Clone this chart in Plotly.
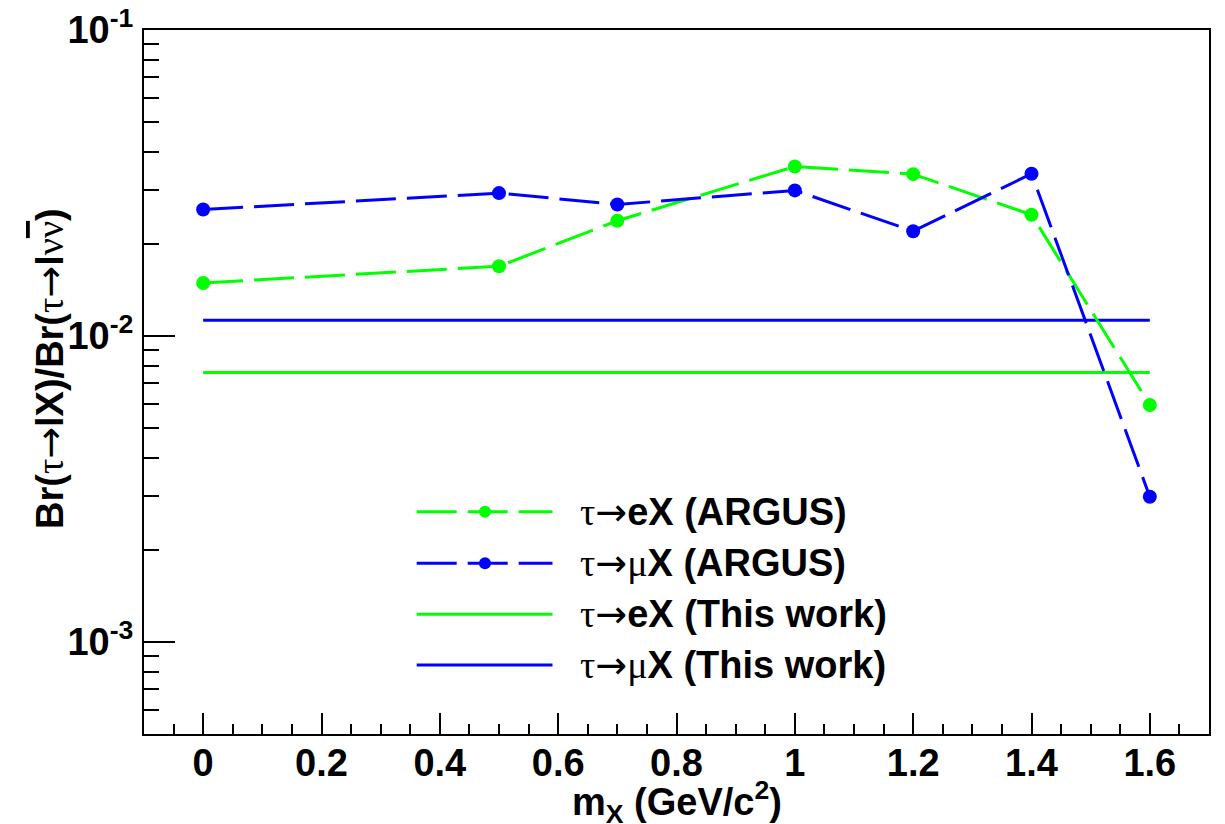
import plotly.graph_objects as go

# ---------------- data ----------------
mx = [0.0, 0.5, 0.7, 1.0, 1.2, 1.4, 1.6]
e_argus = [0.0149, 0.0169, 0.0238, 0.0358, 0.0338, 0.0249, 0.00595]
mu_argus = [0.0259, 0.0293, 0.0269, 0.0299, 0.0220, 0.0339, 0.00298]
this_x = [0.0, 1.6]
e_this = [0.0076, 0.0076]
mu_this = [0.01125, 0.01125]

x_ticks = [0, 0.2, 0.4, 0.6, 0.8, 1.0, 1.2, 1.4, 1.6]
x_ticktext = ["0", "0.2", "0.4", "0.6", "0.8", "1", "1.2", "1.4", "1.6"]
y_ticks = [1e-3, 1e-2, 1e-1]
y_ticktext = ["10<sup>-3</sup>", "10<sup>-2</sup>", "10<sup>-1</sup>"]
y_minor = [m * 10 ** e for e in (-4, -3, -2) for m in range(2, 10) if m * 10 ** e >= 5e-4]
x_minor = [round(-0.05 + 0.05 * i, 2) for i in range(36)]

legend_labels = [
    "τ→eX (ARGUS)",
    "τ→μX (ARGUS)",
    "τ→eX (This work)",
    "τ→μX (This work)",
]

GREEN = "#00ff00"
BLUE = "#0000ff"
DASH = "40px,11px"
SANS = "Liberation Sans"
FS = 38

GR = "<span style=\"font-family:'Liberation Serif';font-weight:normal\">%s</span>"
AR = "<span style=\"font-family:'DejaVu Sans';font-weight:normal\">→</span>"

fig = go.Figure()
fig.add_trace(go.Scatter(x=this_x, y=e_this, mode="lines",
                         line=dict(color=GREEN, width=3), showlegend=False))
fig.add_trace(go.Scatter(x=this_x, y=mu_this, mode="lines",
                         line=dict(color=BLUE, width=3), showlegend=False))
fig.add_trace(go.Scatter(x=mx, y=e_argus, mode="lines+markers",
                         line=dict(color=GREEN, width=3, dash=DASH),
                         marker=dict(color=GREEN, size=14), showlegend=False))
fig.add_trace(go.Scatter(x=mx, y=mu_argus, mode="lines+markers",
                         line=dict(color=BLUE, width=3, dash=DASH),
                         marker=dict(color=BLUE, size=14), showlegend=False))

L, R, T, B = 144, 1209, 30, 734
W, H = 1225, 824


def px(x):
    return (x - L) / (R - L)


def py(y):
    return (B - y) / (B - T)


def greek(s):
    out = ""
    for ch in s:
        if ch in "τμν":
            out += GR % ch
        elif ch == "→":
            out += AR
        else:
            out += ch
    return out


shapes = []
annotations = []
rows = [511.7, 563.3, 614.3, 665.0]
styles = [(GREEN, DASH, True), (BLUE, DASH, True), (GREEN, "solid", False), (BLUE, "solid", False)]
for (col, dash, mk), ry, lab in zip(styles, rows, legend_labels):
    shapes.append(dict(type="line", xref="paper", yref="paper",
                       x0=px(416.7), x1=px(552.5), y0=py(ry), y1=py(ry),
                       line=dict(color=col, width=3, dash=dash)))
    if mk:
        shapes.append(dict(type="circle", xref="paper", yref="paper",
                           xsizemode="pixel", ysizemode="pixel",
                           xanchor=px(485), yanchor=py(ry),
                           x0=-6, x1=6, y0=-6, y1=6,
                           fillcolor=col, line=dict(color=col, width=0)))
    annotations.append(dict(xref="paper", yref="paper", x=px(578), y=py(ry),
                            xanchor="left", yanchor="middle", showarrow=False,
                            text=greek(lab),
                            font=dict(family=SANS, size=FS, color="black", weight="bold")))

# axis titles
annotations.append(dict(xref="paper", yref="paper", x=0.5, y=py(802),
                        xanchor="center", yanchor="middle", showarrow=False,
                        text="m<sub>X</sub> (GeV/c<sup>2</sup>)",
                        font=dict(family=SANS, size=FS, color="black", weight="bold")))
ylab = ("Br(" + greek("τ→") + "lX)/Br(" + greek("τ→") + "l" + GR % "ν"
        + "<span style=\"font-family:'Liberation Serif';font-weight:normal;text-decoration:overline\">ν</span>)")
annotations.append(dict(xref="paper", yref="paper", x=px(50), y=py(369),
                        xanchor="center", yanchor="middle", showarrow=False,
                        textangle=-90, text=ylab,
                        font=dict(family=SANS, size=FS, color="black", weight="bold")))

fig.update_layout(
    width=W, height=H, autosize=False,
    margin=dict(l=L, r=W - R, t=T, b=H - B, pad=0),
    paper_bgcolor="white", plot_bgcolor="white",
    showlegend=False,
    shapes=shapes, annotations=annotations,
    xaxis=dict(range=[-0.1, 1.7], showgrid=False, zeroline=False, automargin=False,
               showline=True, linecolor="black", linewidth=2, mirror=True,
               ticks="inside", ticklen=21, tickwidth=2, tickcolor="black",
               tickvals=x_ticks, ticktext=x_ticktext, ticklabelstandoff=-6,
               tickfont=dict(family=SANS, size=FS, color="black", weight="bold"),
               minor=dict(tickvals=x_minor, ticks="inside", ticklen=10,
                          tickwidth=2, tickcolor="black", showgrid=False)),
    yaxis=dict(type="log", range=[-3.30103, -1], showgrid=False, zeroline=False, automargin=False,
               showline=True, linecolor="black", linewidth=2, mirror=True,
               ticks="inside", ticklen=31, tickwidth=2, tickcolor="black",
               tickvals=y_ticks, ticktext=y_ticktext, ticklabelstandoff=1,
               tickfont=dict(family=SANS, size=FS, color="black", weight="bold"),
               minor=dict(tickvals=y_minor, ticks="inside", ticklen=15,
                          tickwidth=2, tickcolor="black", showgrid=False)),
)

fig.write_html("out.html")
